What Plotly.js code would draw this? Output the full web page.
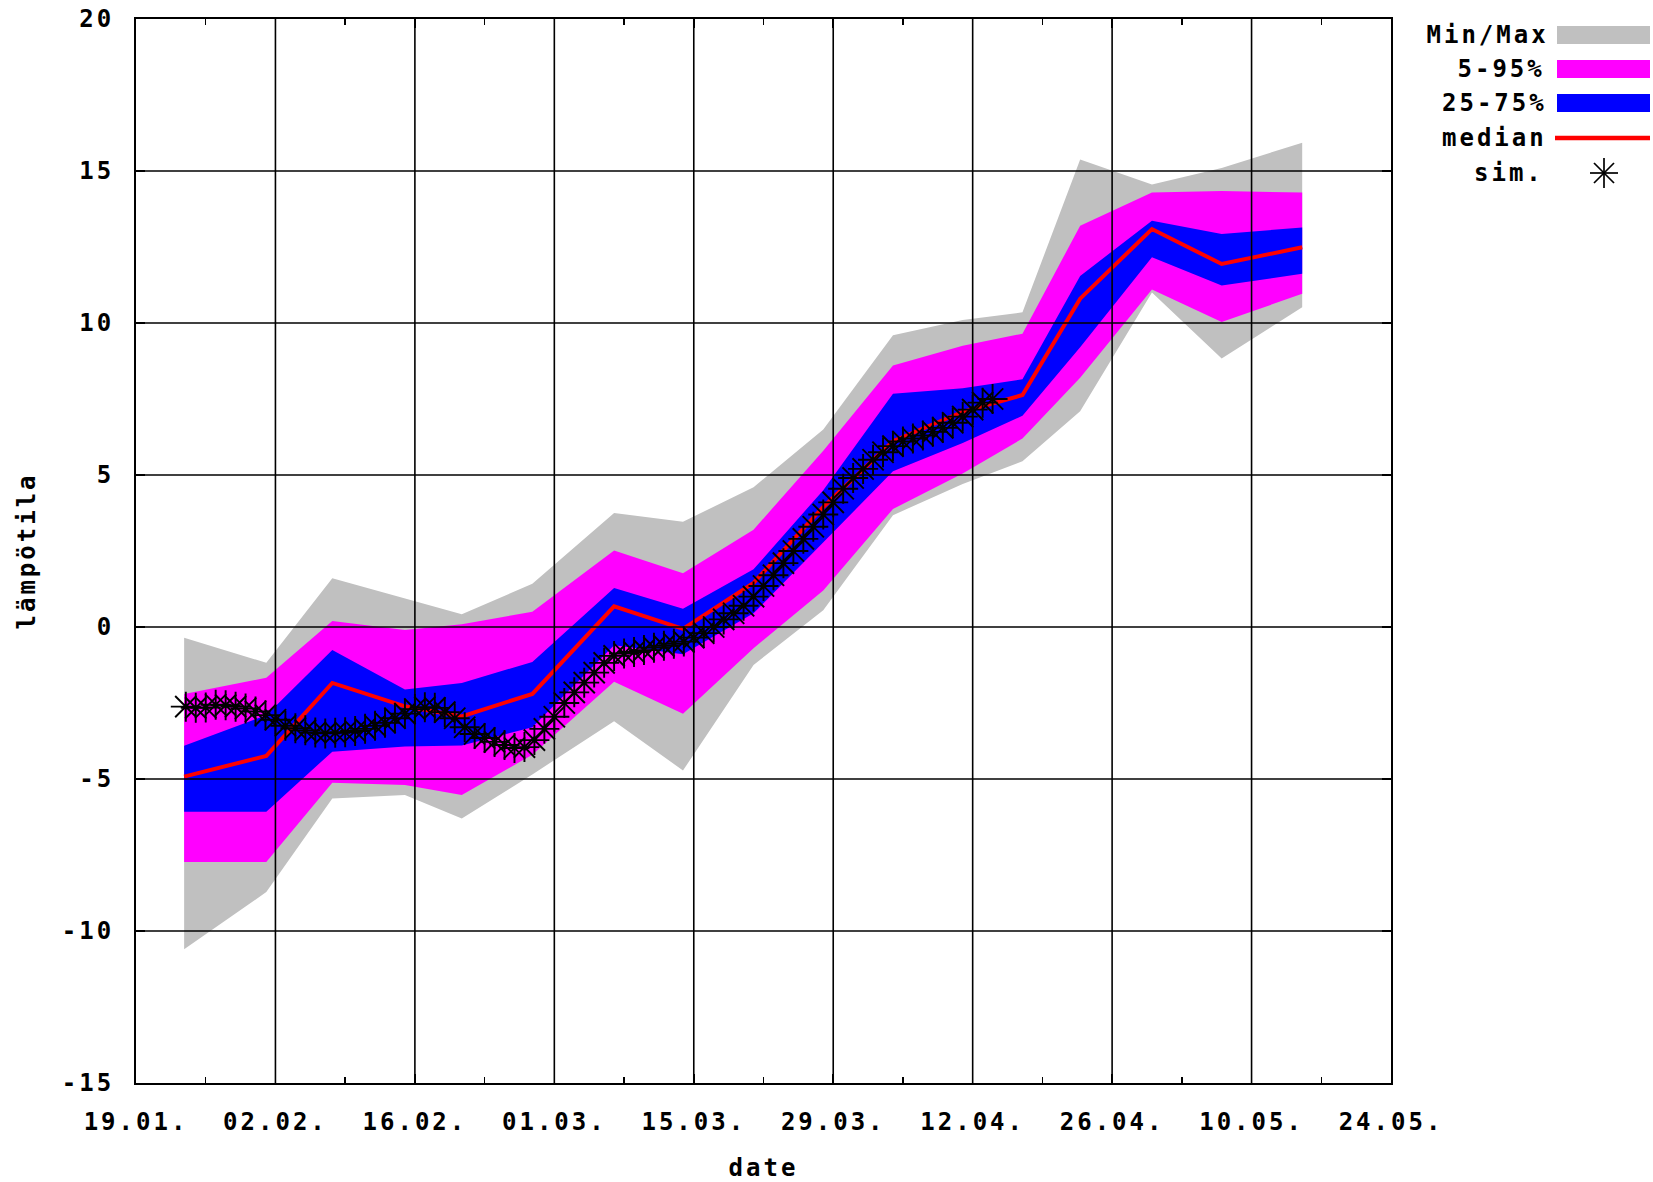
<!DOCTYPE html>
<html><head><meta charset="utf-8">
<script src="https://cdn.plot.ly/plotly-3.0.1.min.js"></script>
<style>
html,body{margin:0;padding:0;background:#fff;}
#chart{width:1653px;height:1182px;}
#chart svg text{letter-spacing:3px;}
</style></head><body><div id="chart"></div>
<script>
// ---- data ----
const bandDates = ['2008-01-23 20:00','2008-02-01 02:00','2008-02-07 17:00','2008-02-15 00:00','2008-02-20 17:00',
  '2008-02-27 19:00','2008-03-07 00:00','2008-03-13 22:00','2008-03-21 00:00','2008-03-28 00:00','2008-04-04 00:00',
  '2008-04-11 00:00','2008-04-17 00:00','2008-04-22 19:00','2008-04-30 00:00','2008-05-07 00:00','2008-05-15 02:00'];
const minVals  = [-10.6, -8.72, -5.64, -5.53, -6.3, -4.85, -3.1, -4.72, -1.25, 0.55, 3.68, 4.7, 5.45, 7.1, 11.0, 8.83, 10.52];
const p5Vals   = [-7.73, -7.73, -5.12, -5.2, -5.53, -4.2, -1.8, -2.85, -0.7, 1.2, 3.88, 5.05, 6.2, 8.2, 11.1, 10.03, 10.96];
const p25Vals  = [-6.08, -6.08, -4.1, -3.93, -3.9, -3.3, -0.6, -0.9, 0.45, 2.8, 5.12, 6.05, 6.95, 9.2, 12.16, 11.23, 11.62];
const medVals  = [-4.92, -4.24, -1.84, -2.61, -2.94, -2.2, 0.68, -0.06, 1.45, 3.95, 6.11, 7.08, 7.63, 10.8, 13.09, 11.94, 12.49];
const p75Vals  = [-3.91, -2.9, -0.76, -2.06, -1.84, -1.15, 1.28, 0.6, 1.9, 4.5, 7.67, 7.85, 8.15, 11.55, 13.36, 12.93, 13.14];
const p95Vals  = [-2.2, -1.67, 0.2, -0.1, 0.09, 0.5, 2.52, 1.77, 3.2, 5.8, 8.6, 9.25, 9.65, 13.2, 14.29, 14.34, 14.29];
const maxVals  = [-0.35, -1.18, 1.6, 0.94, 0.42, 1.42, 3.75, 3.46, 4.6, 6.5, 9.6, 10.1, 10.35, 15.38, 14.56, 15.1, 15.93];

const simStart = '2008-01-24';
const simVals = [-2.62,-2.66,-2.65,-2.56,-2.57,-2.62,-2.68,-2.78,-2.9,-3.05,
  -3.25,-3.33,-3.4,-3.47,-3.5,-3.48,-3.46,-3.42,-3.35,-3.25,
  -3.15,-3.0,-2.85,-2.7,-2.64,-2.66,-2.8,-3.0,-3.3,-3.52,
  -3.65,-3.78,-3.88,-3.98,-3.95,-3.72,-3.35,-2.95,-2.5,-2.15,
  -1.83,-1.5,-1.18,-0.95,-0.87,-0.82,-0.76,-0.68,-0.62,-0.55,
  -0.48,-0.35,-0.2,0.0,0.25,0.45,0.7,1.0,1.35,1.7,
  2.1,2.5,2.9,3.3,3.7,4.1,4.55,4.9,5.2,5.5,
  5.75,5.95,6.1,6.2,6.3,6.42,6.55,6.72,6.92,7.15,
  7.38,7.5];

const xTickVals = ['2008-01-19','2008-02-02','2008-02-16','2008-03-01','2008-03-15','2008-03-29','2008-04-12','2008-04-26','2008-05-10','2008-05-24'];
const xTickText = ['19.01.','02.02.','16.02.','01.03.','15.03.','29.03.','12.04.','26.04.','10.05.','24.05.'];
const xMinorVals = ['2008-01-26','2008-02-09','2008-02-23','2008-03-08','2008-03-22','2008-04-05','2008-04-19','2008-05-03','2008-05-17'];
const yTickVals = [-15,-10,-5,0,5,10,15,20];
const yTickText = ['-15','-10','-5','0','5','10','15','20'];

const legendLabels = ['Min/Max','5-95%','25-75%','median','sim.'];
const colGray = '#c0c0c0', colMag = '#ff00ff', colBlue = '#0000ff', colRed = '#ff0000';

// ---- build ----
const simDates = simVals.map((v, i) => {
  const d = new Date(simStart + 'T00:00:00Z');
  d.setUTCDate(d.getUTCDate() + i);
  return d.toISOString().slice(0, 10);
});

const noLine = {width: 0, color: 'rgba(0,0,0,0)'};
const traces = [
  {x: bandDates, y: minVals, mode: 'lines', line: noLine, hoverinfo: 'skip'},
  {x: bandDates, y: maxVals, mode: 'lines', line: noLine, fill: 'tonexty', fillcolor: colGray, name: legendLabels[0]},
  {x: bandDates, y: p5Vals, mode: 'lines', line: noLine, hoverinfo: 'skip'},
  {x: bandDates, y: p95Vals, mode: 'lines', line: noLine, fill: 'tonexty', fillcolor: colMag, name: legendLabels[1]},
  {x: bandDates, y: p25Vals, mode: 'lines', line: noLine, hoverinfo: 'skip'},
  {x: bandDates, y: p75Vals, mode: 'lines', line: noLine, fill: 'tonexty', fillcolor: colBlue, name: legendLabels[2]},
  {x: bandDates, y: medVals, mode: 'lines', line: {color: colRed, width: 4}, name: legendLabels[3]},
  {x: simDates, y: simVals, mode: 'markers', name: legendLabels[4],
   marker: {symbol: 'asterisk-open', size: 25, color: 'black', line: {color: 'black', width: 1.9}}}
];

const font = {family: 'DejaVu Sans Mono', size: 24, color: '#000', weight: 'bold'};

const shapes = [];
xTickVals.slice(1, -1).forEach(v => shapes.push({type: 'line', xref: 'x', yref: 'paper', x0: v, x1: v, y0: 0, y1: 1,
  line: {color: '#000', width: 1.6}, layer: 'above'}));
yTickVals.slice(1, -1).forEach(v => shapes.push({type: 'line', xref: 'paper', yref: 'y', x0: 0, x1: 1, y0: v, y1: v,
  line: {color: '#000', width: 1.6}, layer: 'above'}));

// legend (gnuplot-style key: text right-aligned, sample on the right)
const W = 1653, H = 1182, L = 136, R = 262, T = 19, B = 99;
const pw = W - L - R, ph = H - T - B;
const px = x => (x - L) / pw;
const py = y => (H - B - y) / ph;
const rowY = [35, 69, 103, 138, 173];
const annotations = legendLabels.map((t, i) => ({
  text: t, xref: 'paper', yref: 'paper', x: px(1540), y: py(rowY[i]), xanchor: 'right', yanchor: 'middle',
  showarrow: false, font: font
}));
const boxCols = [colGray, colMag, colBlue];
boxCols.forEach((c, i) => shapes.push({type: 'rect', xref: 'paper', yref: 'paper',
  x0: px(1557), x1: px(1650), y0: py(rowY[i] - 9), y1: py(rowY[i] + 9), fillcolor: c, line: {width: 0}}));
shapes.push({type: 'line', xref: 'paper', yref: 'paper', x0: px(1555), x1: px(1650), y0: py(rowY[3]), y1: py(rowY[3]),
  line: {color: colRed, width: 4.5}});
const sc = {x: px(1604), y: py(rowY[4])};
[[-14, 0, 14, 0], [0, -15, 0, 15], [-10, -10, 10, 10], [-10, 10, 10, -10]].forEach(a => shapes.push({
  type: 'line', xref: 'paper', yref: 'paper', xsizemode: 'pixel', ysizemode: 'pixel', xanchor: sc.x, yanchor: sc.y,
  x0: a[0], x1: a[2], y0: a[1], y1: a[3], line: {color: '#000', width: 1.7}}));

const layout = {
  width: W, height: H,
  margin: {l: L, r: R, t: T, b: B, pad: 0},
  paper_bgcolor: '#fff', plot_bgcolor: '#fff',
  showlegend: false, hovermode: false,
  font: font,
  xaxis: {
    type: 'date', range: ['2008-01-19', '2008-05-24'],
    tickmode: 'array', tickvals: xTickVals, ticktext: xTickText,
    ticks: 'inside', ticklen: 9, tickwidth: 1.5, tickcolor: '#000',
    showgrid: false, zeroline: false,
    showline: true, linecolor: '#000', linewidth: 2, mirror: 'allticks',
    ticklabelstandoff: 16,
    minor: {tickmode: 'array', tickvals: xMinorVals, ticks: 'inside', ticklen: 6, tickwidth: 1.5, tickcolor: '#000', showgrid: false},
    title: {text: 'date', font: font, standoff: 25}
  },
  yaxis: {
    range: [-15, 20],
    tickmode: 'array', tickvals: yTickVals, ticktext: yTickText,
    ticks: 'inside', ticklen: 9, tickwidth: 1.5, tickcolor: '#000',
    showgrid: false, zeroline: false,
    showline: true, linecolor: '#000', linewidth: 2, mirror: 'allticks',
    ticklabelstandoff: 15,
    title: {text: 'lämpötila', font: font, standoff: 28}
  },
  shapes: shapes,
  annotations: annotations
};

Plotly.newPlot('chart', traces, layout, {staticPlot: true, displayModeBar: false});
</script></body></html>
